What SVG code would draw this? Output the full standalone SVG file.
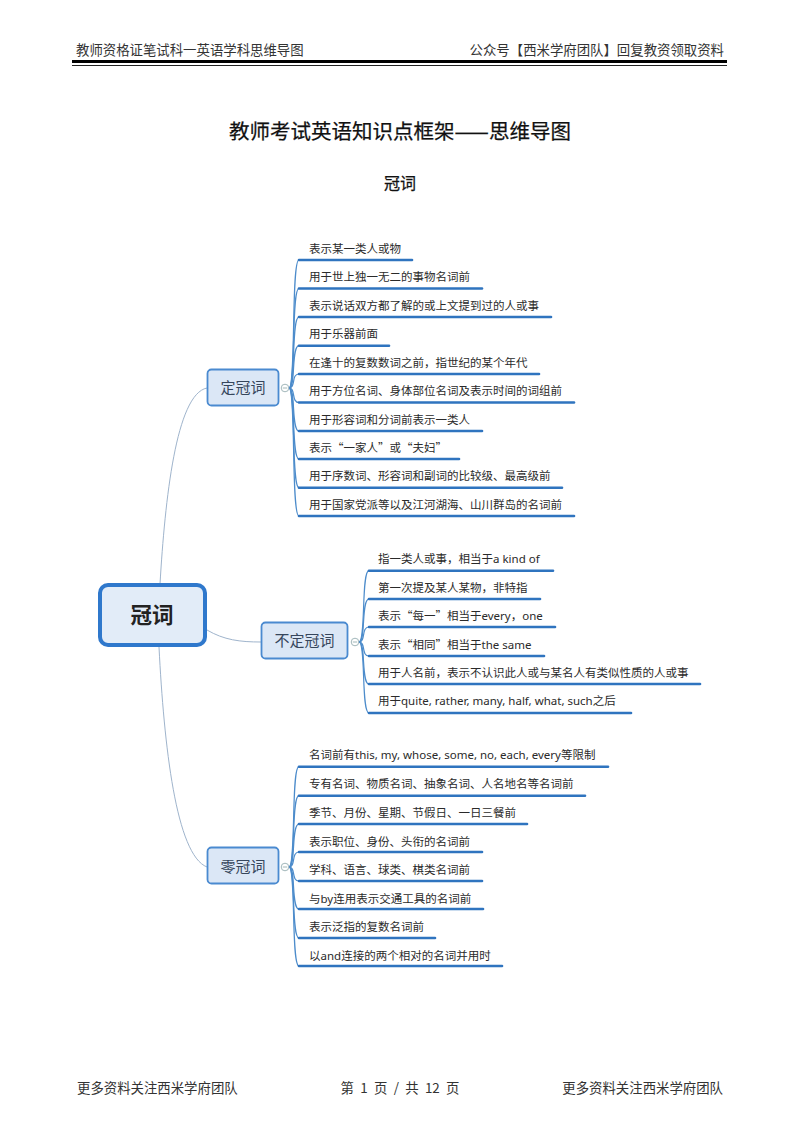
<svg xmlns="http://www.w3.org/2000/svg" width="800" height="1131" viewBox="0 0 800 1131">
<style>
text{font-family:"Noto Sans CJK SC","Liberation Sans",sans-serif;fill:#222}
.hd{font-size:13.4px;fill:#333}
.lf{font-family:"Noto Sans","Noto Sans CJK SC",sans-serif;font-size:11.5px;fill:#2a2a2a}
.q{font-family:"Noto Sans CJK SC",sans-serif}
.tt{stroke:#111;stroke-width:.25;text-anchor:middle;fill:#111}
.ul{stroke:#2f74bf;stroke-width:2.6;stroke-linecap:round;fill:none}
.nd{fill:#dbe7f6;stroke:#4a8ad0;stroke-width:1.8}
.nt{font-size:15px;fill:#36465c;text-anchor:middle}
.br{fill:none;stroke:#9fb4cc;stroke-width:1}
.sp{fill:none;stroke:#4d8ccb;stroke-width:1.2}
.cc{fill:#fff;stroke:#8aa5a8;stroke-width:.8}
</style>
<rect width="800" height="1131" fill="#fff"/>
<g id="header">
<text class="hd" x="76" y="55">教师资格证笔试科一英语学科思维导图</text>
<text class="hd" x="724" y="55" text-anchor="end">公众号【西米学府团队】回复教资领取资料</text>
<rect x="72" y="60" width="655" height="3" fill="#000"/>
<rect x="72" y="65" width="655" height="1" fill="#222"/>
</g>
<g id="title">
<text class="tt" x="400" y="138.500" font-size="20.500">教师考试英语知识点框架——思维导图</text>
<text class="tt" x="400" y="189" font-size="16">冠词</text>
</g>
<g id="connectors">
<path class="br" d="M160 584C165 500 176 394 207 388"/>
<path class="br" d="M207 630C224 640 240 642 261 642"/>
<path class="br" d="M159 647C164 745 176 855 207 867"/>
<path class="sp" d="M289 388C296 388 291 260 299 260"/>
<path class="sp" d="M289 388C296 388 291 288.500 299 288.500"/>
<path class="sp" d="M289 388C296 388 291 317 299 317"/>
<path class="sp" d="M289 388C296 388 291 345.700 299 345.700"/>
<path class="sp" d="M289 388C296 388 291 374 299 374"/>
<path class="sp" d="M289 388C296 388 291 402.500 299 402.500"/>
<path class="sp" d="M289 388C296 388 291 431 299 431"/>
<path class="sp" d="M289 388C296 388 291 459 299 459"/>
<path class="sp" d="M289 388C296 388 291 487.700 299 487.700"/>
<path class="sp" d="M289 388C296 388 291 516 299 516"/>
<path class="sp" d="M359 642C366 642 361 570.700 369 570.700"/>
<path class="sp" d="M359 642C366 642 361 599 369 599"/>
<path class="sp" d="M359 642C366 642 361 627 369 627"/>
<path class="sp" d="M359 642C366 642 361 656 369 656"/>
<path class="sp" d="M359 642C366 642 361 684 369 684"/>
<path class="sp" d="M359 642C366 642 361 713 369 713"/>
<path class="sp" d="M289 867C296 867 291 766.700 299 766.700"/>
<path class="sp" d="M289 867C296 867 291 795.700 299 795.700"/>
<path class="sp" d="M289 867C296 867 291 824 299 824"/>
<path class="sp" d="M289 867C296 867 291 852 299 852"/>
<path class="sp" d="M289 867C296 867 291 881 299 881"/>
<path class="sp" d="M289 867C296 867 291 909 299 909"/>
<path class="sp" d="M289 867C296 867 291 938 299 938"/>
<path class="sp" d="M289 867C296 867 291 966 299 966"/>
</g>
<g id="root"><rect x="100" y="585" width="105" height="60" rx="8" fill="#e2ecf8" stroke="#2f78cc" stroke-width="4"/><text x="152" y="623" font-size="21.500" font-weight="700" text-anchor="middle" fill="#1f4a80">冠词</text></g>
<g id="node-def"><rect class="nd" x="207.500" y="369.500" width="71" height="36" rx="4"/><text class="nt" x="243" y="393">定冠词</text><circle class="cc" cx="285" cy="388" r="3.800"/><path d="M282.800 388h4.400" stroke="#7a9a9a" stroke-width=".7"/></g>
<g id="node-indef"><rect class="nd" x="261.500" y="622.500" width="86" height="36" rx="4"/><text class="nt" x="304.500" y="646">不定冠词</text><circle class="cc" cx="355" cy="642" r="3.800"/><path d="M352.800 642h4.400" stroke="#7a9a9a" stroke-width=".7"/></g>
<g id="node-zero"><rect class="nd" x="207.500" y="847.500" width="71" height="36" rx="4"/><text class="nt" x="243" y="872">零冠词</text><circle class="cc" cx="285" cy="867" r="3.800"/><path d="M282.800 867h4.400" stroke="#7a9a9a" stroke-width=".7"/></g>
<g id="a1"><text class="lf" x="309" y="252.700">表示某一类人或物</text><path class="ul" d="M299 260H412"/></g>
<g id="a2"><text class="lf" x="309" y="281.200">用于世上独一无二的事物名词前</text><path class="ul" d="M299 288.500H482"/></g>
<g id="a3"><text class="lf" x="309" y="309.700">表示说话双方都了解的或上文提到过的人或事</text><path class="ul" d="M299 317H551"/></g>
<g id="a4"><text class="lf" x="309" y="338.400">用于乐器前面</text><path class="ul" d="M299 345.700H389"/></g>
<g id="a5"><text class="lf" x="309" y="366.700">在逢十的复数数词之前，指世纪的某个年代</text><path class="ul" d="M299 374H539"/></g>
<g id="a6"><text class="lf" x="309" y="395.200">用于方位名词、身体部位名词及表示时间的词组前</text><path class="ul" d="M299 402.500H574"/></g>
<g id="a7"><text class="lf" x="309" y="423.700">用于形容词和分词前表示一类人</text><path class="ul" d="M299 431H482"/></g>
<g id="a8"><text class="lf q" x="309" y="451.700">表示“一家人”或“夫妇”</text><path class="ul" d="M299 459H459"/></g>
<g id="a9"><text class="lf" x="309" y="480.400">用于序数词、形容词和副词的比较级、最高级前</text><path class="ul" d="M299 487.700H562"/></g>
<g id="a10"><text class="lf" x="309" y="508.700">用于国家党派等以及江河湖海、山川群岛的名词前</text><path class="ul" d="M299 516H574"/></g>
<g id="b1"><text class="lf" x="378" y="563.400">指一类人或事，相当于a kind of</text><path class="ul" d="M369 570.700H553"/></g>
<g id="b2"><text class="lf" x="378" y="591.700">第一次提及某人某物，非特指</text><path class="ul" d="M369 599H540"/></g>
<g id="b3"><text class="lf" x="378" y="620.200"><tspan class="q">表示“每一”相当于</tspan>every，one</text><path class="ul" d="M369 627H555"/></g>
<g id="b4"><text class="lf" x="378" y="648.700"><tspan class="q">表示“相同”相当于</tspan>the same</text><path class="ul" d="M369 656H544"/></g>
<g id="b5"><text class="lf" x="378" y="676.700">用于人名前，表示不认识此人或与某名人有类似性质的人或事</text><path class="ul" d="M369 684H700"/></g>
<g id="b6"><text class="lf" x="378" y="705.200">用于quite, rather, many, half, what, such之后</text><path class="ul" d="M369 713H631"/></g>
<g id="c1"><text class="lf" x="309" y="759.200">名词前有this, my, whose, some, no, each, every等限制</text><path class="ul" d="M299 766.700H608"/></g>
<g id="c2"><text class="lf" x="309" y="788.400">专有名词、物质名词、抽象名词、人名地名等名词前</text><path class="ul" d="M299 795.700H585"/></g>
<g id="c3"><text class="lf" x="309" y="816.700">季节、月份、星期、节假日、一日三餐前</text><path class="ul" d="M299 824H527"/></g>
<g id="c4"><text class="lf" x="309" y="845.500">表示职位、身份、头衔的名词前</text><path class="ul" d="M299 852H482"/></g>
<g id="c5"><text class="lf" x="309" y="873.700">学科、语言、球类、棋类名词前</text><path class="ul" d="M299 881H482"/></g>
<g id="c6"><text class="lf" x="309" y="902.500">与by连用表示交通工具的名词前</text><path class="ul" d="M299 909H483"/></g>
<g id="c7"><text class="lf" x="309" y="930.700">表示泛指的复数名词前</text><path class="ul" d="M299 938H435"/></g>
<g id="c8"><text class="lf" x="309" y="959.500">以and连接的两个相对的名词并用时</text><path class="ul" d="M299 966H502"/></g>
<g id="footer">
<text class="hd" x="77" y="1093">更多资料关注西米学府团队</text>
<text class="hd" x="400" y="1093" text-anchor="middle" word-spacing="3.300">第 1 页 / 共 12 页</text>
<text class="hd" x="723" y="1093" text-anchor="end">更多资料关注西米学府团队</text>
</g>
</svg>
